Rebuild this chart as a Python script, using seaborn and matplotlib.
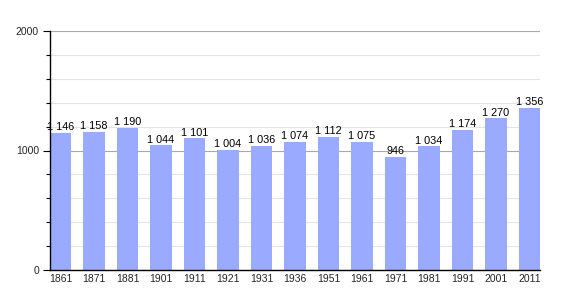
import matplotlib
matplotlib.use("Agg")
import matplotlib.pyplot as plt
import seaborn as sns
import pandas as pd
from matplotlib.ticker import MultipleLocator

years = ["1861", "1871", "1881", "1901", "1911", "1921", "1931", "1936",
         "1951", "1961", "1971", "1981", "1991", "2001", "2011"]
population = [1146, 1158, 1190, 1044, 1101, 1004, 1036, 1074,
              1112, 1075, 946, 1034, 1174, 1270, 1356]

df = pd.DataFrame({"year": years, "pop": population})

sns.set_style("white")
plt.rcParams['font.family'] = ['Liberation Sans', 'DejaVu Sans']

fig = plt.figure(figsize=(5.7, 3.0), dpi=100)
ax = fig.add_axes([50/570, 30/300, 490/570, 239/300])

w = 0.63
sns.barplot(data=df, x="year", y="pop", color="#99aaff", saturation=1,
            width=w, ax=ax, zorder=3, linewidth=0, edgecolor="none")

ax.set_xlim(-w/2, len(years) - 1 + w/2)
ax.set_ylim(0, 2000)
ax.yaxis.set_major_locator(MultipleLocator(1000))
ax.yaxis.set_minor_locator(MultipleLocator(200))
ax.grid(axis="y", which="minor", color="#e4e4e4", linewidth=0.8, zorder=0)
ax.grid(axis="y", which="major", color="#a8a8a8", linewidth=0.8, zorder=1)
ax.set_axisbelow(True)

for s in ["top", "right"]:
    ax.spines[s].set_visible(False)
for s in ["left", "bottom"]:
    ax.spines[s].set_color("black")
    ax.spines[s].set_linewidth(1.0)
    ax.spines[s].set_zorder(5)

ax.tick_params(axis="y", which="major", length=5, width=0.8, color="black",
               labelsize=7.5, pad=3, left=True)
ax.tick_params(axis="y", which="minor", length=3, width=0.8, color="black", left=True)
ax.tick_params(axis="x", length=0, labelsize=7.5, pad=3)
ax.set_xlabel("")
ax.set_ylabel("")

for i, v in enumerate(population):
    label = f"{v:,}".replace(",", " ")
    ax.text(i, v + 6, label, ha="center", va="bottom", fontsize=7.8,
            color="black", zorder=6)

fig.savefig("out.png", dpi=100)
